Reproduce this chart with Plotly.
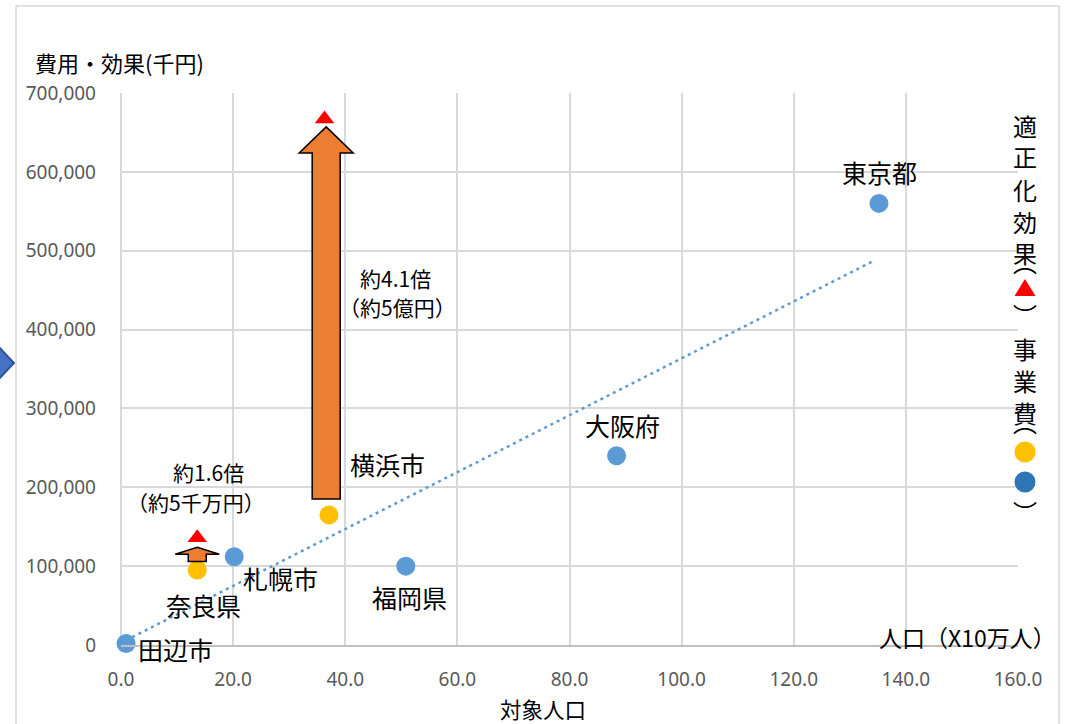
import plotly.graph_objects as go

# ---------------- data ----------------
# 事業費 (blue): population (x10万人) and cost (千円)
blue_names = ["田辺市", "札幌市", "福岡県", "大阪府", "東京都"]
blue_pop = [0.9, 20.2, 50.8, 88.4, 135.2]
blue_cost = [2000, 112000, 100000, 240000, 560000]

# 事業費 (yellow)
yellow_names = ["奈良県", "横浜市"]
yellow_pop = [13.6, 37.1]
yellow_cost = [95000, 165000]

# 適正化効果 (red triangles)
red_pop = [13.6, 36.3]
red_effect = [136000, 667000]

# linear trend of the blue series (end points)
trend_pop = [0.9, 134.5]
trend_cost = [6000, 488000]

# effect arrows
arrow_pop = [13.6, 36.6]
arrow_base = [106000, 185000]
arrow_tip = [124000, 657000]
ratio_text = ["約1.6倍", "約4.1倍"]
ratio_amount = ["（約5千万円）", "（約5億円）"]

x_ticks = [0, 20, 40, 60, 80, 100, 120, 140, 160]
y_ticks = [0, 100000, 200000, 300000, 400000, 500000, 600000, 700000]

# ---------------- style ----------------
W, H = 1077, 724
ML, MR, MT, MB = 121, 59, 93, 79
PW, PH = W - ML - MR, H - MT - MB
CJK = "Noto Sans CJK JP"
NUM = "Noto Sans"
BLUE = "#5B9BD5"
YELLOW = "#FFC000"
RED = "#FF0000"
ORANGE = "#ED7D31"
GRID = "#D9D9D9"


def px(x):
    return (x - ML) / PW


def py(y):
    return (MT + PH - y) / PH


def note(**kw):
    base = dict(showarrow=False, xanchor="center", yanchor="middle")
    base.update(kw)
    return base


fig = go.Figure()

fig.add_trace(go.Scatter(
    x=trend_pop, y=trend_cost, mode="lines",
    line=dict(color=BLUE, width=2.5, dash="3px,4px"),
    hoverinfo="skip", showlegend=False, cliponaxis=False))

fig.add_trace(go.Scatter(
    x=blue_pop, y=blue_cost, mode="markers",
    marker=dict(color=BLUE, size=19, line=dict(width=0)),
    showlegend=False, cliponaxis=False))

fig.add_trace(go.Scatter(
    x=yellow_pop, y=yellow_cost, mode="markers",
    marker=dict(color=YELLOW, size=19, line=dict(width=0)),
    showlegend=False, cliponaxis=False))

fig.add_trace(go.Scatter(
    x=red_pop, y=red_effect, mode="markers",
    marker=dict(color=RED, symbol="triangle-up", size=17, line=dict(width=0)),
    showlegend=False, cliponaxis=False))

shapes = []
annotations = []

# outer chart frame
shapes.append(dict(type="rect", xref="paper", yref="paper",
                   x0=px(16), x1=px(1059), y0=py(745), y1=py(6),
                   line=dict(color=GRID, width=1.5), fillcolor="rgba(0,0,0,0)",
                   layer="below"))
# chevron on the left edge
shapes.append(dict(type="path", xref="paper", yref="paper",
                   path=f"M{px(-4)},{py(344)} L{px(14)},{py(363)} L{px(-4)},{py(382)} Z",
                   fillcolor="#4472C4", line=dict(color="#2F5597", width=2)))

# block arrows from cost to effect
arrow_style = [
    dict(body=9, head=22, head_len=9000),
    dict(body=14, head=27, head_len=33000),
]
for xa, yb, yt, st in zip(arrow_pop, arrow_base, arrow_tip, arrow_style):
    bw, hw, yh = st["body"], st["head"], yt - st["head_len"]
    path = (f"M{-bw},{yb} L{bw},{yb} L{bw},{yh} L{hw},{yh} "
            f"L0,{yt} L{-hw},{yh} L{-bw},{yh} Z")
    shapes.append(dict(type="path", xref="x", yref="y", xsizemode="pixel",
                       xanchor=xa, path=path, fillcolor=ORANGE,
                       line=dict(color="black", width=1.5)))

# ratio notes beside the arrows (pixel offsets from the arrow tip)
ratio_shift = [((11, 75), (-1, 45)), ((69, -151), (71, -180))]
for i in range(2):
    (dx1, dy1), (dx2, dy2) = ratio_shift[i]
    annotations.append(note(x=arrow_pop[i], y=arrow_tip[i], xref="x", yref="y",
                            text=ratio_text[i], xshift=dx1, yshift=dy1,
                            font=dict(family=CJK, size=21, color="black")))
    annotations.append(note(x=arrow_pop[i], y=arrow_tip[i], xref="x", yref="y",
                            text=ratio_amount[i], xshift=dx2, yshift=dy2,
                            font=dict(family=CJK, size=21, color="black")))

# point labels (pixel offsets from the marker)
blue_shift = {"田辺市": (49, -6), "札幌市": (46, -21), "福岡県": (4, -31),
              "大阪府": (6, 31), "東京都": (1, 31)}
for n, xv, yv in zip(blue_names, blue_pop, blue_cost):
    dx, dy = blue_shift[n]
    annotations.append(note(x=xv, y=yv, xref="x", yref="y", text=n,
                            xshift=dx, yshift=dy,
                            font=dict(family=CJK, size=25, color="black")))
yellow_shift = {"奈良県": (6, -35), "横浜市": (59, 51)}
for n, xv, yv in zip(yellow_names, yellow_pop, yellow_cost):
    dx, dy = yellow_shift[n]
    annotations.append(note(x=xv, y=yv, xref="x", yref="y", text=n,
                            xshift=dx, yshift=dy,
                            font=dict(family=CJK, size=25, color="black")))

# axis titles
annotations.append(note(x=px(33), y=py(62), xref="paper", yref="paper",
                        text="費用・効果(千円)", xanchor="left",
                        font=dict(family=CJK, size=22, color="black")))
annotations.append(note(x=px(1058), y=py(637), xref="paper", yref="paper",
                        text="人口（X10万人）", xanchor="right",
                        font=dict(family=CJK, size=23, color="black")))
annotations.append(note(x=px(543), y=py(708), xref="paper", yref="paper",
                        text="対象人口",
                        font=dict(family=CJK, size=21.5, color="black")))

# vertical legend on the right (vertical bracket glyphs sit off-centre in
# their cells, so their anchors are nudged)
legend_x = px(1025)
legend_chars = [("適", 125), ("正", 157), ("化", 189), ("効", 221), ("果", 253),
                ("︵", 261), ("︶", 314),
                ("事", 348), ("業", 380), ("費", 412), ("︵", 421), ("︶", 511)]
for ch, yy in legend_chars:
    annotations.append(note(x=legend_x, y=py(yy), xref="paper", yref="paper",
                            text=ch, font=dict(family=CJK, size=24, color="black")))
shapes.append(dict(type="path", xref="paper", yref="paper", xsizemode="pixel",
                   ysizemode="pixel", xanchor=legend_x, yanchor=py(288),
                   path="M-10.5,-8 L10.5,-8 L0,9 Z", fillcolor=RED,
                   line=dict(width=0)))
for col, yy in [(YELLOW, 452), ("#2E75B6", 482)]:
    shapes.append(dict(type="circle", xref="paper", yref="paper", xsizemode="pixel",
                       ysizemode="pixel", xanchor=legend_x, yanchor=py(yy),
                       x0=-10.5, x1=10.5, y0=-10.5, y1=10.5,
                       fillcolor=col, line=dict(width=0)))

fig.update_layout(
    width=W, height=H,
    margin=dict(l=ML, r=MR, t=MT, b=MB),
    paper_bgcolor="white", plot_bgcolor="white",
    shapes=shapes, annotations=annotations,
    xaxis=dict(range=[0, 160], tickvals=x_ticks, tickformat=".1f",
               showgrid=True, gridcolor=GRID, gridwidth=1.5,
               zeroline=True, zerolinecolor=GRID, zerolinewidth=1.5,
               showline=True, linecolor="#BFBFBF", linewidth=2,
               ticks="", ticklabelstandoff=16,
               tickfont=dict(family=NUM, size=19, color="#595959")),
    yaxis=dict(range=[0, 700000], tickvals=y_ticks, tickformat=",",
               showgrid=True, gridcolor=GRID, gridwidth=1.5,
               zeroline=False, showline=False,
               ticks="", ticklabelstandoff=24,
               tickfont=dict(family=NUM, size=19, color="#595959")),
)

fig.write_html("out.html")
